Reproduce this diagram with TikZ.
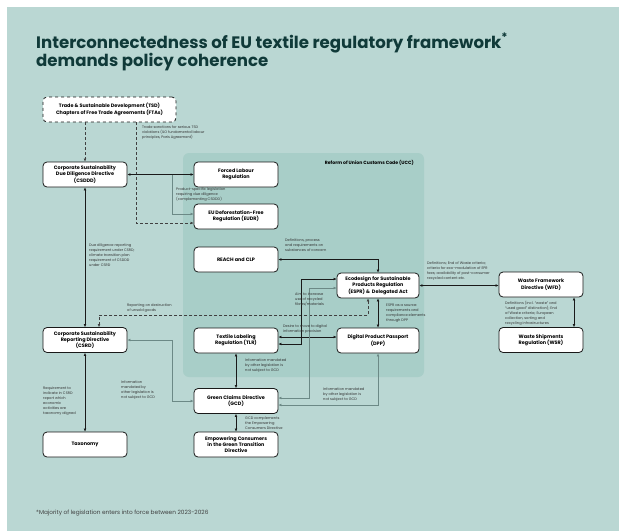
\documentclass[tikz,border=0pt]{standalone}
\usepackage{fontspec}
\setmainfont{Poppins}
\usetikzlibrary{arrows.meta}

\definecolor{bgteal}{HTML}{BAD7D3}
\definecolor{uccteal}{HTML}{A8CEC8}
\definecolor{titleink}{HTML}{103A39}
\definecolor{linegray}{HTML}{6C8986}

\tikzset{
  >={Latex[length=3pt,width=2.8pt]},
  law/.style={draw=black!90, fill=white, rounded corners=4pt, line width=0.8pt,
    minimum width=84pt, minimum height=25pt, inner sep=1pt, align=center,
    font=\fontsize{4.9}{6.4}\selectfont\bfseries},
  note/.style={anchor=north west, inner sep=0pt, align=left, text=black!80,
    font=\fontsize{3.6}{4.9}\selectfont},
  link/.style={line width=0.65pt, black!90, <->},
  graylink/.style={line width=0.65pt, linegray, <->},
  dashlink/.style={line width=0.65pt, black!75, dash pattern=on 3pt off 2pt}
}

\begin{document}
\begin{tikzpicture}[x=1pt,y=-1pt]
        \useasboundingbox (0,0) rectangle (619,531);
        \fill[white] (0,0) rectangle (619,531);
        \fill[bgteal] (7,7) rectangle (619,531);
        \fill[uccteal, rounded corners=6pt] (183,153) rectangle (424,377);

        \node[anchor=north west, inner sep=0pt, align=left, text=titleink,
          font=\fontsize{16.6}{17.5}\selectfont\bfseries] (title) at (36,33)
          {Interconnectedness of EU textile regulatory framework\textsuperscript{*}\\demands policy coherence};
        \node[anchor=east, inner sep=0pt, font=\fontsize{4.6}{6}\selectfont\bfseries] (ucclabel) at (414,163) {Reform of Union Customs Code (UCC)};

        \node[law, dashed, minimum width=133pt] (tsd) at (109.5,109.5) {Trade \& Sustainable Development (TSD)\\Chapters of Free Trade Agreements (FTAs)};
        \node[law] (csddd) at (85,174.5) {Corporate Sustainability\\Due Diligence Directive\\(CSDDD)};
        \node[law] (forced) at (236,174.5) {Forced Labour\\Regulation};
        \node[law] (eudr) at (236,216.5) {EU Deforestation-Free\\Regulation (EUDR)};
        \node[law] (reach) at (236,259.5) {REACH and CLP};
        \node[law, minimum width=82pt] (espr) at (378,285.5) {Ecodesign for Sustainable\\Products Regulation\\(ESPR) \& \ Delegated Act};
        \node[law, minimum width=82pt] (dpp) at (378,340.5) {Digital Product Passport\\(DPP)};
        \node[law] (tlr) at (236,340.5) {Textile Labeling\\Regulation (TLR)};
        \node[law] (wfd) at (541,284.5) {Waste Framework\\Directive (WFD)};
        \node[law] (wsr) at (541,340) {Waste Shipments\\Regulation (WSR)};
        \node[law] (csrd) at (85,340) {Corporate Sustainability\\Reporting Directive\\(CSRD)};
        \node[law] (taxo) at (85,444.5) {Taxonomy};
        \node[law] (gcd) at (236,401) {Green Claims Directive\\(GCD)};
        \node[law] (ecgt) at (236,444.5) {Empowering Consumers\\in the Green Transition\\Directive};

        \draw[dashlink, ->] (csddd.north |- tsd.south) -- (csddd.north);
        \draw[dashlink, ->] ([xshift=26.5pt]tsd.south) |- ([yshift=-6.5pt]eudr.west);
        \draw[link] (csddd.east) -- (forced.west);
        \draw[graylink, -> ] ([xshift=45pt]csddd.east) |- ([yshift=2.5pt]eudr.west);
        \draw[link] (csddd.south) -- (csrd.north);
        \draw[dashlink, <->] ([xshift=-10pt]espr.south) -- ++(0,17) -| ([xshift=14pt]csrd.north);
        \draw[link] (reach.east) -| (espr.north);
        \draw[link] ([yshift=-3.5pt]tlr.east) -- ++(23,0) |- ([yshift=6.5pt]espr.west);
        \draw[link] ([yshift=3.5pt]tlr.east) -- ([yshift=3.5pt]dpp.west);
        \draw[link] (espr.south) -- (dpp.north);
        \draw[link] (espr.east) -- (espr.east -| wfd.west);
        \draw[link] ([xshift=33pt]wfd.south) -- ([xshift=33pt]wsr.north);
        \draw[link] (csrd.south) -- (taxo.north);
        \draw[graylink] (csrd.east) -- ++(45,0) |- (gcd.west);
        \draw[link] (tlr.south) -- (gcd.north);
        \draw[link] (gcd.south) -- (ecgt.north);
        \draw[graylink] ([yshift=3pt]gcd.east) -- ++(31,0) |- ([yshift=-2.5pt]espr.west);
        \draw[graylink] ([yshift=-4pt]gcd.east) -| (dpp.south);

        \node[note] (sanctions) at (142,126) {Trade sanctions for serious TSD\\violations (ILO fundamental labour\\principles, Paris Agreement)};
        \node[note] (duediligence) at (176,188) {Product-specific legislation\\requiring due diligence\\(complementing CSDDD)};
        \node[note] (reporting) at (89,244) {Due diligence reporting\\requirement under CSRD;\\climate transition plan\\requirement of CSDDD\\under CSRD};
        \node[note] (unsold) at (127,304) {Reporting on destruction\\of unsold goods};
        \node[note] (concern) at (285,239) {Definitions, process\\and requirements on\\substances of concern};
        \node[note] (recycled) at (295,293) {Aim to increase\\use of recycled\\fibres/materials};
        \node[note] (digital) at (283,325) {Desire to move to digital\\information provision};
        \node[note] (source) at (386,304) {ESPR as a source:\\requirements and\\compliance elements\\through DPP};
        \node[note] (endofwaste) at (427,262) {Definitions; End of Waste criteria;\\criteria for eco-modulation of EPR\\fees; availability of post-consumer\\recycled content etc.};
        \node[note] (usedgood) at (505,301) {Definitions (incl. ``waste'' and\\``used good'' distinction); End\\of Waste criteria; European\\collection, sorting and\\recycling infrastructures};
        \node[note] (aligned) at (43,387) {Requirement to\\indicate in CSRD\\report which\\economic\\activities are\\taxonomy aligned};
        \node[note] (mandatedcsrd) at (121,381) {Information\\mandated by\\other legislation is\\not subject to GCD};
        \node[note] (mandatedtlr) at (245,359) {Information mandated\\by other legislation is\\not subject to GCD};
        \node[note] (mandateddpp) at (323,388) {Information mandated\\by other legislation is\\not subject to GCD};
        \node[note] (complements) at (245,417) {GCD complements\\the Empowering\\Consumers Directive};

        \node[anchor=west, inner sep=0pt, text=black!75, font=\fontsize{5.8}{7}\selectfont] (footnote) at (36,513) {*Majority of legislation enters into force between 2023-2026};
\end{tikzpicture}
\end{document}
